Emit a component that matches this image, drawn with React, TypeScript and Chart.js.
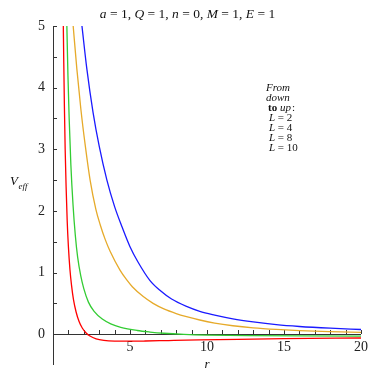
import React, { useEffect, useRef } from "react";
import { Chart, registerables } from "chart.js";
Chart.register(...registerables);

// ---- data ----
const seriesLabels = ["L = 2", "L = 4", "L = 8", "L = 10"];

const rL2 = [0.67, 0.7, 0.74, 0.79, 0.85, 0.92, 1.0, 1.1, 1.2, 1.33, 1.5, 1.7, 1.9, 2.15, 2.4, 2.8, 3.3, 4.0, 5, 6, 7.5, 9.5, 12, 15, 20];
const vL2 = [5, 4.4, 3.7, 3.0, 2.4, 1.85, 1.42, 1.05, 0.8, 0.56, 0.36, 0.2, 0.1, 0.02, -0.03, -0.075, -0.1, -0.112, -0.114, -0.111, -0.103, -0.093, -0.083, -0.073, -0.062];

const rL4 = [0.9, 0.97, 1.05, 1.16, 1.3, 1.45, 1.6, 1.8, 2.0, 2.3, 2.67, 3.2, 3.75, 4.4, 5.47, 6.3, 7.2, 8.5, 10, 13, 16, 20];
const vL4 = [5, 4.2, 3.5, 2.75, 2.1, 1.6, 1.25, 0.95, 0.74, 0.52, 0.37, 0.245, 0.168, 0.112, 0.06, 0.035, 0.015, -0.003, -0.015, -0.025, -0.029, -0.03];

const rL8 = [1.31, 1.55, 1.81, 2.1, 2.41, 2.78, 3.06, 3.4, 3.7, 4.35, 4.79, 5.15, 5.86, 6.5, 7.2, 8.0, 8.67, 9.53, 10.5, 11.68, 13, 14.5, 16, 18, 20];
const vL8 = [5, 4.3, 3.65, 3.05, 2.5, 2.03, 1.78, 1.53, 1.35, 1.04, 0.88, 0.77, 0.61, 0.5, 0.41, 0.335, 0.285, 0.23, 0.18, 0.137, 0.103, 0.077, 0.058, 0.041, 0.028];

const rL10 = [1.88, 2.2, 2.6, 3.0, 3.5, 4.0, 4.5, 5.0, 5.5, 6.3, 7.0, 7.7, 8.67, 9.53, 10.5, 11.68, 13, 14.5, 16, 18, 20];
const vL10 = [5, 4.3, 3.6, 3.05, 2.5, 2.07, 1.73, 1.42, 1.18, 0.87, 0.7, 0.57, 0.45, 0.37, 0.31, 0.25, 0.2, 0.155, 0.125, 0.097, 0.076];

const xTickValues = [5, 10, 15, 20];
const yTickValues = [0, 1, 2, 3, 4, 5];
const xMinorStep = 1;
const yMinorStep = 0.5;

const seriesColors = ["#ff0000", "#33cc33", "#e6aa2a", "#1a1aff"];

const SERIF = '"Liberation Serif", "DejaVu Serif", serif';

const pts = (r: number[], v: number[]) => r.map((x, i) => ({ x, y: v[i] }));

const decorPlugin = {
  id: "decor",
  beforeDatasetsDraw(chart: any) {
    const { ctx, scales } = chart;
    const xs = scales.x;
    const ys = scales.y;
    const x0 = xs.getPixelForValue(0);
    const y0 = ys.getPixelForValue(0);
    ctx.save();
    ctx.strokeStyle = "#333";
    ctx.lineWidth = 1;
    ctx.beginPath();
    ctx.moveTo(Math.round(x0) + 0.5, ys.getPixelForValue(ys.max));
    ctx.lineTo(Math.round(x0) + 0.5, ys.getPixelForValue(ys.min));
    ctx.moveTo(x0, Math.round(y0) + 0.5);
    ctx.lineTo(xs.getPixelForValue(xs.max), Math.round(y0) + 0.5);
    for (let v = xMinorStep; v <= xs.max + 1e-9; v += xMinorStep) {
      const px = Math.round(xs.getPixelForValue(v)) + 0.5;
      ctx.moveTo(px, Math.round(y0));
      ctx.lineTo(px, Math.round(y0) - 4);
    }
    for (let v = yMinorStep; v <= ys.max + 1e-9; v += yMinorStep) {
      const py = Math.round(ys.getPixelForValue(v)) + 0.5;
      ctx.moveTo(x0, py);
      ctx.lineTo(x0 + 4, py);
    }
    ctx.stroke();
    ctx.restore();
  },
  afterDraw(chart: any) {
    const { ctx } = chart;
    ctx.save();
    ctx.fillStyle = "#111";
    ctx.textBaseline = "alphabetic";
    const segs: [string, boolean][] = [
      ["a", true], [" = 1, ", false], ["Q", true], [" = 1, ", false],
      ["n", true], [" = 0, ", false], ["M", true], [" = 1, ", false],
      ["E", true], [" = 1", false],
    ];
    const tsize = 13.5;
    let total = 0;
    for (const [t, it] of segs) {
      ctx.font = `${it ? "italic " : ""}${tsize}px ${SERIF}`;
      total += ctx.measureText(t).width;
    }
    let tx = 187.5 - total / 2;
    for (const [t, it] of segs) {
      ctx.font = `${it ? "italic " : ""}${tsize}px ${SERIF}`;
      ctx.textAlign = "left";
      ctx.fillText(t, tx, 18);
      tx += ctx.measureText(t).width;
    }
    ctx.font = `italic 13px ${SERIF}`;
    ctx.fillText("V", 10, 185);
    ctx.font = `italic 9px ${SERIF}`;
    ctx.fillText("eff", 18.5, 189);
    ctx.font = `italic 13px ${SERIF}`;
    ctx.textAlign = "center";
    ctx.fillText("r", 207, 368);
    ctx.textAlign = "left";
    const lx = 266;
    let ly = 91;
    const lh = 10;
    const fs = 11;
    ctx.font = `italic ${fs}px ${SERIF}`;
    ctx.fillText("From", lx, ly); ly += lh;
    ctx.fillText("down", lx, ly); ly += lh;
    ctx.font = `bold ${fs}px ${SERIF}`;
    ctx.fillText("to", lx + 2, ly);
    let w = ctx.measureText("to ").width;
    ctx.font = `italic ${fs}px ${SERIF}`;
    ctx.fillText("up", lx + 2 + w, ly);
    w += ctx.measureText("up").width;
    ctx.font = `${fs}px ${SERIF}`;
    ctx.fillText(":", lx + 2 + w + 1, ly);
    ly += lh;
    for (const lab of seriesLabels) {
      ctx.font = `italic ${fs}px ${SERIF}`;
      ctx.fillText("L", lx + 3, ly);
      const lw = ctx.measureText("L").width;
      ctx.font = `${fs}px ${SERIF}`;
      ctx.fillText(lab.slice(1), lx + 3 + lw, ly);
      ly += lh;
    }
    ctx.restore();
  },
};

export default function App() {
  const ref = useRef<HTMLCanvasElement | null>(null);
  useEffect(() => {
    if (!ref.current) return;
    const datasets = [
      [rL2, vL2], [rL4, vL4], [rL8, vL8], [rL10, vL10],
    ].map(([r, v], i) => ({
      label: seriesLabels[i],
      data: pts(r, v),
      borderColor: seriesColors[i],
      borderWidth: 1.3,
      pointRadius: 0,
      fill: false,
      cubicInterpolationMode: "monotone" as const,
    }));
    const chart = new Chart(ref.current, {
      type: "line",
      data: { datasets },
      options: {
        animation: false,
        responsive: false,
        maintainAspectRatio: false,
        layout: { padding: { left: 0, right: 13, top: 26, bottom: 9 } },
        plugins: { legend: { display: false }, title: { display: false }, tooltip: { enabled: false } },
        scales: {
          x: {
            type: "linear",
            min: 0,
            max: 20,
            position: { y: 0 } as any,
            grid: { display: false, drawTicks: false, tickLength: 0 },
            border: { display: false },
            afterBuildTicks: (s: any) => { s.ticks = xTickValues.map((v) => ({ value: v })); },
            afterFit: (s: any) => { s.height = 0; },
            ticks: {
              padding: 5,
              maxRotation: 0,
              autoSkip: false,
              color: "#222",
              font: { family: SERIF, size: 14 },
            },
          },
          y: {
            type: "linear",
            min: -0.5,
            max: 5,
            position: "left",
            grid: { display: false, drawTicks: true, tickLength: 8 },
            border: { display: false },
            afterBuildTicks: (s: any) => { s.ticks = yTickValues.map((v) => ({ value: v })); },
            afterFit: (s: any) => { s.width = 53; },
            ticks: {
              padding: 0,
              autoSkip: false,
              color: "#222",
              font: { family: SERIF, size: 14 },
            },
          },
        },
      },
      plugins: [decorPlugin],
    });
    return () => chart.destroy();
  }, []);
  return (
    <div style={{ position: "absolute", left: 0, top: 0, width: 374, height: 374, background: "#fff" }}>
      <canvas ref={ref} width={374} height={374} style={{ display: "block" }} />
    </div>
  );
}
